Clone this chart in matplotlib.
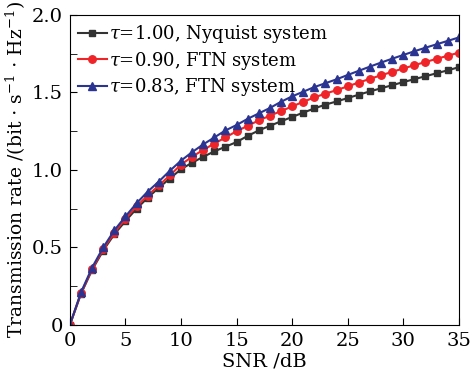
import matplotlib
matplotlib.use("Agg")
import matplotlib.pyplot as plt
from matplotlib.ticker import MultipleLocator

plt.rcParams["font.family"] = "DejaVu Serif"
plt.rcParams["mathtext.fontset"] = "dejavuserif"

# SNR in dB, one point per dB
snr = list(range(0, 36))

# tau = 1.00, Nyquist system
rate_100 = [0.0, 0.20, 0.355, 0.48, 0.585, 0.67, 0.75, 0.82, 0.885, 0.945,
            1.005, 1.047, 1.085, 1.12, 1.15, 1.18, 1.22, 1.255, 1.285, 1.314,
            1.342, 1.37, 1.397, 1.422, 1.442, 1.464, 1.486, 1.507, 1.527, 1.547,
            1.567, 1.586, 1.605, 1.624, 1.643, 1.663]
# tau = 0.90, FTN system
rate_090 = [0.0, 0.205, 0.36, 0.49, 0.595, 0.685, 0.765, 0.835, 0.90, 0.965,
            1.035, 1.085, 1.13, 1.17, 1.21, 1.25, 1.285, 1.32, 1.35, 1.38,
            1.41, 1.44, 1.468, 1.493, 1.515, 1.54, 1.564, 1.588, 1.611, 1.633,
            1.655, 1.676, 1.697, 1.717, 1.737, 1.757]
# tau = 0.83, FTN system
rate_083 = [0.0, 0.21, 0.37, 0.50, 0.61, 0.70, 0.785, 0.86, 0.925, 0.995,
            1.06, 1.115, 1.165, 1.21, 1.255, 1.29, 1.33, 1.365, 1.40, 1.44,
            1.475, 1.505, 1.535, 1.56, 1.585, 1.613, 1.64, 1.667, 1.693, 1.718,
            1.742, 1.766, 1.789, 1.811, 1.833, 1.855]

fig = plt.figure(figsize=(4.72, 3.85), dpi=100)
ax = fig.add_axes([0.148, 0.156, 0.824, 0.805])

ax.plot(snr, rate_100, color="#333333", marker="s", markersize=4.6, lw=1.5,
        label=r"$\tau$=1.00, Nyquist system")
ax.plot(snr, rate_090, color="#ee2428", marker="o", markersize=5.4, lw=1.5,
        label=r"$\tau$=0.90, FTN system")
ax.plot(snr, rate_083, color="#2b3591", marker="^", markersize=6.2, lw=1.5,
        label=r"$\tau$=0.83, FTN system")

ax.set_xlim(0, 35)
ax.set_ylim(0, 2.0)
ax.xaxis.set_major_locator(MultipleLocator(5))
ax.set_yticks([0, 0.5, 1.0, 1.5, 2.0])
ax.set_yticklabels(["0", "0.5", "1.0", "1.5", "2.0"])
ax.yaxis.set_minor_locator(MultipleLocator(0.25))
ax.tick_params(which="both", direction="in", labelsize=14, top=False, right=False)
ax.tick_params(which="major", length=5, pad=5)
ax.tick_params(which="minor", length=5)

ax.set_xlabel("SNR /dB", fontsize=14, labelpad=2)
ax.set_ylabel(r"Transmission rate /(bit $\cdot$ s$^{-1}$ $\cdot$ Hz$^{-1}$)",
              fontsize=13.5, labelpad=3)

ax.legend(loc="upper left", frameon=False, fontsize=13, handlelength=1.6,
          handletextpad=0.1, borderaxespad=0.05, labelspacing=0.25)

fig.savefig("out.png", dpi=100)
